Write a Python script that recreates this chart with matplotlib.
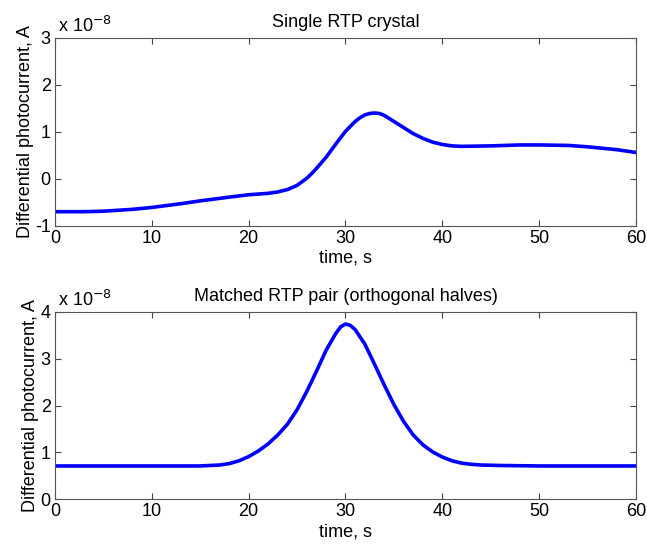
import matplotlib.pyplot as plt
from matplotlib.ticker import FuncFormatter

plt.rcParams['font.family'] = ['Liberation Sans', 'DejaVu Sans']
plt.rcParams['font.size'] = 13

# single RTP crystal (A)
t1 = [0, 3, 5, 8, 10, 13, 15, 18, 20, 22, 23, 24, 25, 26, 26.5, 27, 27.5, 28, 29, 30, 31,
      31.5, 32, 32.5, 33, 33.5, 34, 35, 36, 37, 38, 39, 40, 41, 42, 45, 48, 50, 53, 55, 58, 60]
i1 = [-0.70, -0.70, -0.69, -0.65, -0.61, -0.53, -0.47, -0.39, -0.34, -0.31, -0.28, -0.23,
      -0.14, 0.01, 0.11, 0.22, 0.34, 0.46, 0.74, 1.01, 1.22, 1.30, 1.36, 1.39, 1.40, 1.39,
      1.35, 1.22, 1.09, 0.96, 0.86, 0.78, 0.73, 0.70, 0.69, 0.70, 0.72, 0.72, 0.71, 0.68,
      0.62, 0.56]
i1 = [v * 1e-8 for v in i1]

# matched RTP pair (A)
t2 = [0, 5, 10, 15, 16, 17, 18, 19, 20, 21, 22, 23, 24, 25, 26, 27, 28, 29, 29.5, 30,
      30.5, 31, 32, 33, 34, 35, 36, 37, 38, 39, 40, 41, 42, 43, 44, 46, 50, 55, 60]
i2 = [0.71, 0.71, 0.71, 0.71, 0.72, 0.73, 0.76, 0.82, 0.91, 1.03, 1.18, 1.37, 1.60, 1.91,
      2.30, 2.73, 3.18, 3.54, 3.68, 3.74, 3.71, 3.62, 3.31, 2.88, 2.44, 2.02, 1.66, 1.37,
      1.16, 1.01, 0.90, 0.82, 0.77, 0.745, 0.73, 0.72, 0.71, 0.71, 0.71]
i2 = [v * 1e-8 for v in i2]

fig = plt.figure(figsize=(6.47, 5.48), dpi=100)
ax1 = fig.add_axes([0.085, 0.588, 0.898, 0.343])
ax2 = fig.add_axes([0.085, 0.089, 0.898, 0.342])

panels = [(ax1, t1, i1, "Single RTP crystal", (-1e-8, 3e-8), [-1e-8, 0, 1e-8, 2e-8, 3e-8]),
          (ax2, t2, i2, "Matched RTP pair (orthogonal halves)", (0, 4e-8), [0, 1e-8, 2e-8, 3e-8, 4e-8])]

for ax, t, y, title, ylim, yt in panels:
    ax.plot(t, y, color=(0, 0, 1), lw=2.6, solid_capstyle='round', solid_joinstyle='round')
    ax.set_xlim(0, 60)
    ax.set_ylim(*ylim)
    ax.set_xticks([0, 10, 20, 30, 40, 50, 60])
    ax.set_yticks(yt)
    ax.yaxis.set_major_formatter(FuncFormatter(lambda v, p: "%g" % round(v / 1e-8, 6)))
    ax.tick_params(direction='in', top=True, right=True, length=4, width=0.8,
                   color='#444444', pad=3)
    for s in ax.spines.values():
        s.set_color('#555555')
        s.set_linewidth(0.8)
    ax.set_title(title, pad=8, fontsize=13)
    ax.set_xlabel("time, s", labelpad=2)
    ax.set_ylabel("Differential photocurrent, A", labelpad=1)
    ax.text(0.005, 1.01, r"x 10$^{-8}$", transform=ax.transAxes, ha='left', va='bottom')

fig.savefig("out.png", dpi=100)
